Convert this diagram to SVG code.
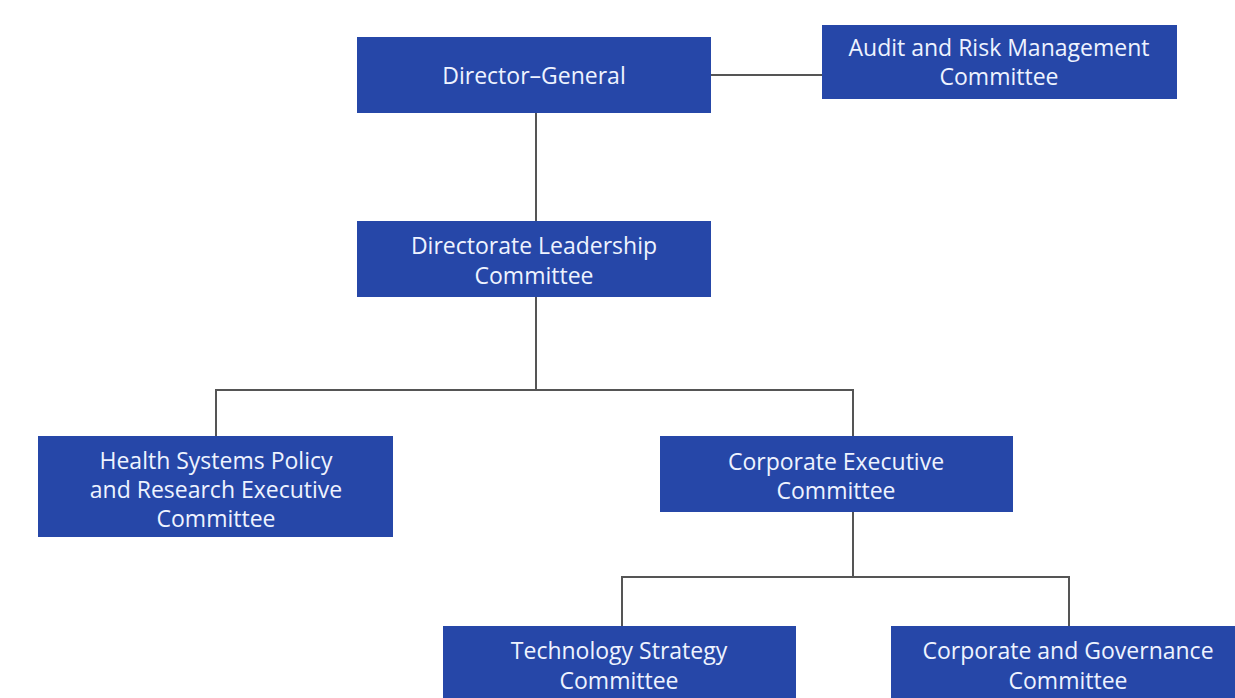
<svg xmlns="http://www.w3.org/2000/svg" width="1235" height="698" viewBox="0 0 1235 698">
  <style>
    .box { fill: #2647a8; }
    .lbl { fill: #eef3ff; font-family: "Open Sans", "Liberation Sans", sans-serif; font-size: 23px; text-anchor: middle; }
    .wire { fill: none; stroke: #555555; stroke-width: 2; }
  </style>
  <rect width="1235" height="698" fill="#ffffff"/>

  <g id="connectors">
    <path class="wire" d="M711 75 H822"/>
    <path class="wire" d="M536 113 V221"/>
    <path class="wire" d="M536 297 V390 M216 436 V390 H853 V436"/>
    <path class="wire" d="M853 512 V577 M622 626 V577 H1069 V626"/>
  </g>

  <g id="director-general">
    <rect class="box" x="357" y="37" width="354" height="76"/>
    <text class="lbl" x="534" y="84">Director–General</text>
  </g>

  <g id="audit-risk">
    <rect class="box" x="822" y="25" width="355" height="74"/>
    <text class="lbl" x="999" y="56">Audit and Risk Management</text>
    <text class="lbl" x="999" y="85">Committee</text>
  </g>

  <g id="directorate-leadership">
    <rect class="box" x="357" y="221" width="354" height="76"/>
    <text class="lbl" x="534" y="254">Directorate Leadership</text>
    <text class="lbl" x="534" y="284">Committee</text>
  </g>

  <g id="health-systems">
    <rect class="box" x="38" y="436" width="355" height="101"/>
    <text class="lbl" x="216" y="469">Health Systems Policy</text>
    <text class="lbl" x="216" y="498">and Research Executive</text>
    <text class="lbl" x="216" y="527">Committee</text>
  </g>

  <g id="corporate-executive">
    <rect class="box" x="660" y="436" width="353" height="76"/>
    <text class="lbl" x="836" y="470">Corporate Executive</text>
    <text class="lbl" x="836" y="499">Committee</text>
  </g>

  <g id="technology-strategy">
    <rect class="box" x="443" y="626" width="353" height="80"/>
    <text class="lbl" x="619" y="659">Technology Strategy</text>
    <text class="lbl" x="619" y="689">Committee</text>
  </g>

  <g id="corporate-governance">
    <rect class="box" x="891" y="626" width="353" height="80"/>
    <text class="lbl" x="1068" y="659">Corporate and Governance</text>
    <text class="lbl" x="1068" y="689">Committee</text>
  </g>
</svg>
